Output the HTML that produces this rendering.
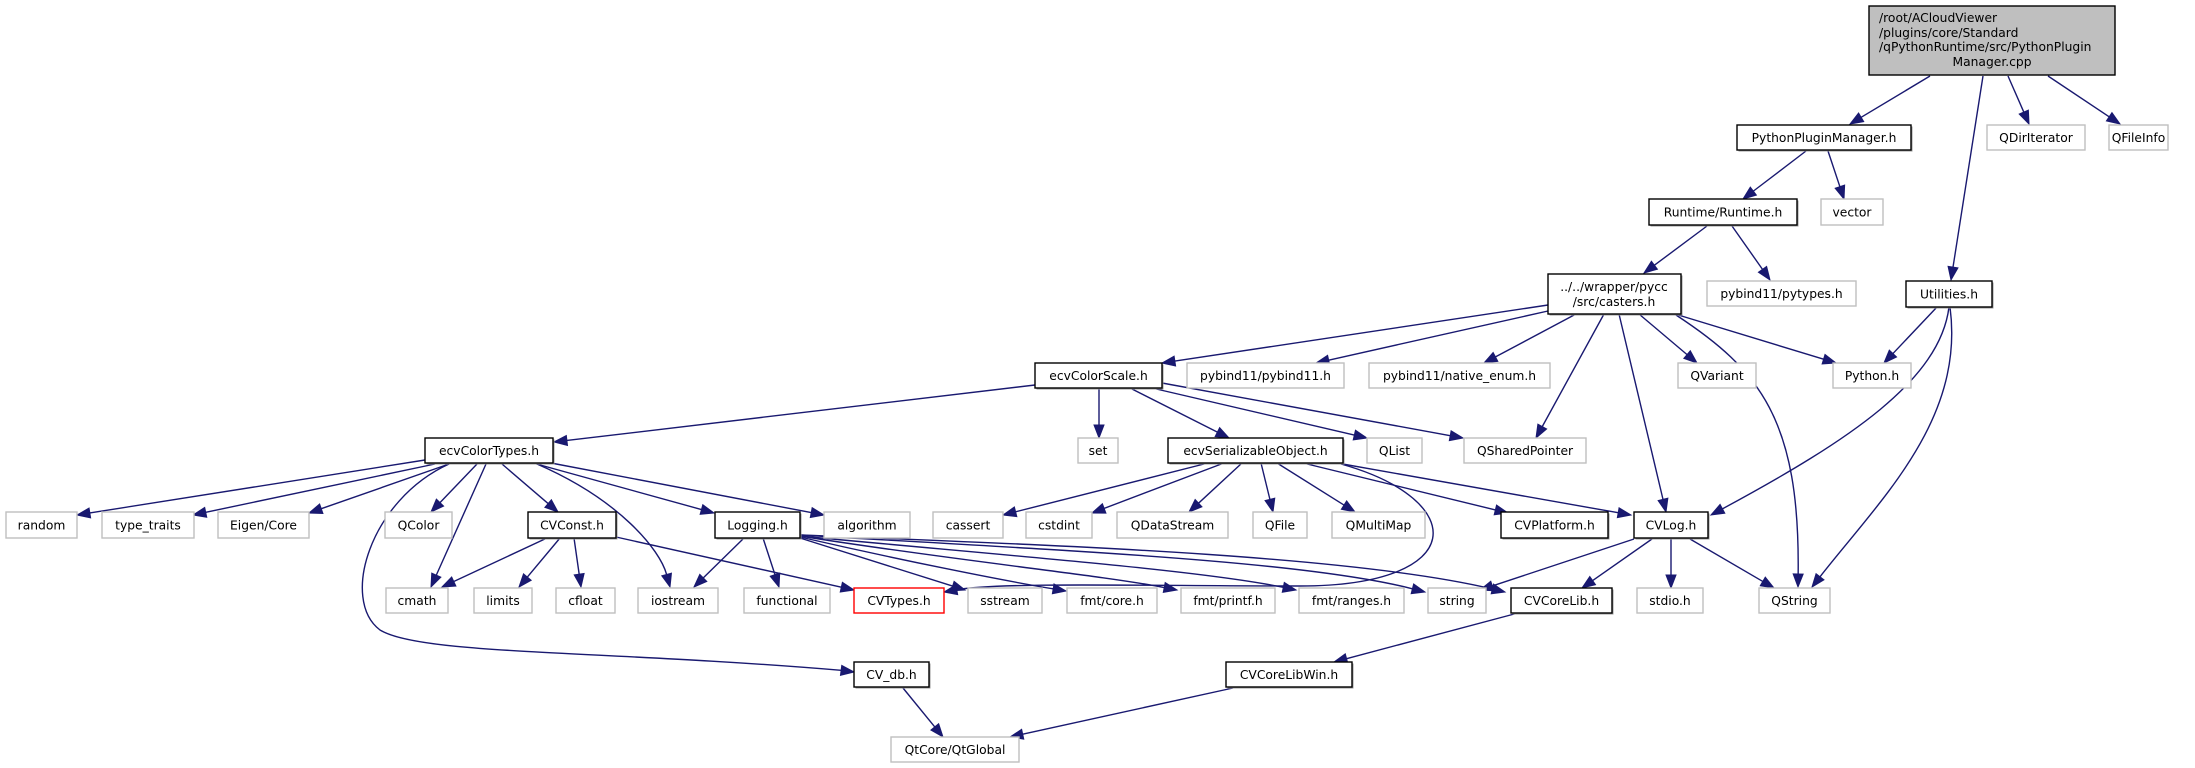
<!DOCTYPE html>
<html><head><meta charset="utf-8"><style>
html,body{margin:0;padding:0;background:#fff;}
svg{display:block;}
text{font-family:"DejaVu Sans","Liberation Sans",sans-serif;font-size:12.3px;fill:#000;}
</style></head><body>
<svg id="g" width="2195" height="768" xmlns="http://www.w3.org/2000/svg">
<rect width="2195" height="768" fill="#fff"/>
</svg>
<script>
const S=document.getElementById('g');const NS='http://www.w3.org/2000/svg';
function el(t,a,txt){const e=document.createElementNS(NS,t);for(const k in a)e.setAttribute(k,a[k]);if(txt!==undefined)e.textContent=txt;S.appendChild(e);return e;}
const C='#191970';
function arrow(px,py,x,y){const dx=x-px,dy=y-py,L=Math.hypot(dx,dy)||1,ux=dx/L,uy=dy/L,len=13,w=5;
 const bx=x-ux*len,by=y-uy*len;
 el('polygon',{points:`${x},${y} ${bx-uy*w},${by+ux*w} ${bx+uy*w},${by-ux*w}`,fill:C,stroke:C,'stroke-width':1});
 return [bx,by];}
function e(p){
 if(p.length==4){const b=arrow(p[0],p[1],p[2],p[3]);el('path',{d:`M${p[0]},${p[1]}L${b[0]},${b[1]}`,stroke:C,fill:'none','stroke-width':1.4});}
 else{const b=arrow(p[4],p[5],p[6],p[7]);el('path',{d:`M${p[0]},${p[1]}C${p[2]},${p[3]} ${p[4]},${p[5]} ${b[0]},${b[1]}`,stroke:C,fill:'none','stroke-width':1.4});}
}
[
[1930,76,1850,124],[2008,76,2029,124],[2048,76,2120,124],[1983,76,1951,280],
[1806,151,1743,199],[1828,151,1844,199],
[1707,226,1644,273],[1732,226,1770,280],
[1548,305,1162,363],[1548,311,1316,363],[1576,314,1484,363],[1639,314,1697,363],[1675,314,1836,363],
[1604,314,1536,438],[1619,314,1666,512],
[1676,315,1760,370,1800,420,1798,587],
[1937,307,1884,363],
[1949,307,1940,380,1850,440,1711,515],
[1950,307,1965,420,1880,500,1812,587],
[1035,385,554,442],[1099,388,1099,438],[1130,388,1229,438],[1152,388,1367,438],[1162,383,1463,438],
[425,460,77,515],[435,464,193,515],[449,464,309,513],[477,464,431,512],[502,464,558,512],[533,463,714,513],[551,463,824,515],
[486,464,431,587],
[537,464,620,500,660,550,670,587],
[547,538,442,587],[560,538,519,587],[574,538,581,587],[616,537,854,590],
[744,538,694,587],[763,538,779,587],[800,538,965,590],
[800,537,900,560,1000,580,1066,591],
[800,536,950,560,1100,575,1177,590],
[800,536,1000,555,1200,570,1296,590],
[800,535,1050,550,1300,560,1425,592],
[800,535,1050,545,1350,555,1505,592],
[1208,463,1003,515],[1224,463,1092,513],[1242,463,1189,512],[1261,463,1273,512],[1277,463,1355,512],[1303,463,1508,513],[1337,463,1631,515],
[1634,539,1480,590],[1652,539,1582,588],[1671,539,1671,588],[1690,539,1774,588],
[1518,613,1334,662],[1233,688,1010,737],[903,688,943,737]
].forEach(e);
(function(){const b=arrow(1000,582,944,592);el('path',{d:`M1341,464 C1470,500 1470,586 1300,586 C1150,586 1000,582 ${b[0]},${b[1]}`,stroke:C,fill:'none','stroke-width':1.4});})();
(function(){const b=arrow(800,665,854,672);el('path',{d:`M449,464 C370,500 340,600 380,630 C420,655 600,650 ${b[0]},${b[1]}`,stroke:C,fill:'none','stroke-width':1.4});})();
function n(x1,x2,y1,y2,t,k){
 if(k=='b'){el('rect',{x:x1+1.5,y:y1+1.5,width:x2-x1,height:y2-y1,fill:'#999'});}
 el('rect',{x:x1,y:y1,width:x2-x1,height:y2-y1,fill:k=='r'?'#bfbfbf':'#fff',stroke:k=='g'?'#bfbfbf':(k=='red'?'#ff0000':'#000'),'stroke-width':1.4});
 if(t!==null)el('text',{x:(x1+x2)/2,y:(y1+y2)/2+4.5,'text-anchor':'middle'},t);
}
el('rect',{x:1869,y:6,width:246,height:69,fill:'#bfbfbf',stroke:'#000','stroke-width':1.4});
[['/root/ACloudViewer',22],['/plugins/core/Standard',37],['/qPythonRuntime/src/PythonPlugin',51]].forEach(a=>el('text',{x:1879,y:a[1]},a[0]));
el('text',{x:1992,y:66,'text-anchor':'middle'},'Manager.cpp');
const R1=[125,150],R2=[199,225],R4=[363,388],R5=[438,463],R6=[512,538],R7=[588,613],R8=[662,687],R9=[737,762];
n(1737,1911,...R1,'PythonPluginManager.h','b');
n(1987,2085,...R1,'QDirIterator','g');
n(2109,2168,...R1,'QFileInfo','g');
n(1649,1797,...R2,'Runtime/Runtime.h','b');
n(1821,1883,...R2,'vector','g');
n(1548,1681,274,314,null,'b');
el('text',{x:1614,y:291,'text-anchor':'middle'},'../../wrapper/pycc');
el('text',{x:1614,y:306,'text-anchor':'middle'},'/src/casters.h');
n(1707,1856,281,306,'pybind11/pytypes.h','g');
n(1906,1992,281,307,'Utilities.h','b');
n(1035,1162,...R4,'ecvColorScale.h','b');
n(1187,1344,...R4,'pybind11/pybind11.h','g');
n(1369,1550,...R4,'pybind11/native_enum.h','g');
n(1678,1756,...R4,'QVariant','g');
n(1833,1911,...R4,'Python.h','g');
n(425,553,...R5,'ecvColorTypes.h','b');
n(1078,1118,...R5,'set','g');
n(1168,1343,...R5,'ecvSerializableObject.h','b');
n(1367,1422,...R5,'QList','g');
n(1464,1586,...R5,'QSharedPointer','g');
n(6,77,...R6,'random','g');
n(102,194,...R6,'type_traits','g');
n(218,309,...R6,'Eigen/Core','g');
n(385,452,...R6,'QColor','g');
n(528,616,...R6,'CVConst.h','b');
n(715,800,...R6,'Logging.h','b');
n(824,910,...R6,'algorithm','g');
n(933,1003,...R6,'cassert','g');
n(1026,1092,...R6,'cstdint','g');
n(1117,1228,...R6,'QDataStream','g');
n(1253,1307,...R6,'QFile','g');
n(1332,1425,...R6,'QMultiMap','g');
n(1501,1608,...R6,'CVPlatform.h','b');
n(1634,1708,...R6,'CVLog.h','b');
n(386,448,...R7,'cmath','g');
n(474,532,...R7,'limits','g');
n(556,615,...R7,'cfloat','g');
n(638,718,...R7,'iostream','g');
n(744,830,...R7,'functional','g');
n(854,944,...R7,'CVTypes.h','red');
n(968,1042,...R7,'sstream','g');
n(1067,1157,...R7,'fmt/core.h','g');
n(1181,1275,...R7,'fmt/printf.h','g');
n(1299,1404,...R7,'fmt/ranges.h','g');
n(1428,1486,...R7,'string','g');
n(1511,1612,...R7,'CVCoreLib.h','b');
n(1637,1703,...R7,'stdio.h','g');
n(1759,1830,...R7,'QString','g');
n(854,929,...R8,'CV_db.h','b');
n(1226,1352,...R8,'CVCoreLibWin.h','b');
n(891,1019,...R9,'QtCore/QtGlobal','g');
</script>
</body></html>
